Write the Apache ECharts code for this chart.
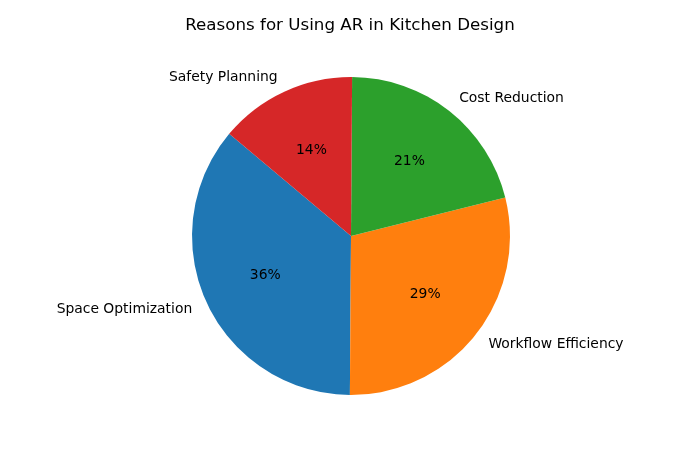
<!DOCTYPE html>
<html>
<head>
<meta charset="utf-8">
<script src="https://cdn.jsdelivr.net/npm/echarts@6/dist/echarts.min.js"></script>
<style>
html,body{margin:0;padding:0;background:#fff;}
#chart{width:700px;height:450px;}
</style>
</head>
<body>
<div id="chart"></div>
<script>
const categories = ['Space Optimization', 'Workflow Efficiency', 'Cost Reduction', 'Safety Planning'];
const shares = [36, 29, 21, 14];
const sliceColors = ['#1f77b4', '#ff7f0e', '#2ca02c', '#d62728'];
const chartTitle = 'Reasons for Using AR in Kitchen Design';

const R = 159;
const center = [351, 236];
const font = 'DejaVu Sans';

const mainData = categories.map((c, i) => ({ name: c, value: shares[i], itemStyle: { color: sliceColors[i] } }));
const pctData = categories.map((c, i) => ({ name: c, value: shares[i] }));
const total = shares.reduce((a, b) => a + b, 0);

const chart = echarts.init(document.getElementById('chart'));
chart.setOption({
  animation: false,
  backgroundColor: '#ffffff',
  title: {
    text: chartTitle,
    left: 'center',
    top: 12,
    textStyle: { fontFamily: font, fontSize: 16.7, fontWeight: 'normal', color: '#000' }
  },
  series: [
    {
      type: 'pie',
      center: center,
      radius: [0, R],
      startAngle: 140,
      clockwise: false,
      avoidLabelOverlap: false,
      silent: true,
      data: mainData,
      itemStyle: { borderWidth: 0 },
      label: {
        show: true,
        position: 'outside',
        formatter: '{b}',
        distanceToLabelLine: 0,
        fontFamily: font,
        fontSize: 13.9,
        color: '#000'
      },
      labelLine: { show: false, length: R * 0.1, length2: 0 }
    },
    {
      type: 'pie',
      center: center,
      radius: [0, R * 1.15],
      startAngle: 140,
      clockwise: false,
      avoidLabelOverlap: false,
      silent: true,
      z: 5,
      data: pctData,
      itemStyle: { color: 'rgba(0,0,0,0)', borderWidth: 0 },
      label: {
        show: true,
        position: 'inside',
        formatter: p => Math.round(p.value / total * 100) + '%',
        fontFamily: font,
        fontSize: 13.9,
        color: '#000'
      },
      labelLine: { show: false }
    }
  ]
});
</script>
</body>
</html>
